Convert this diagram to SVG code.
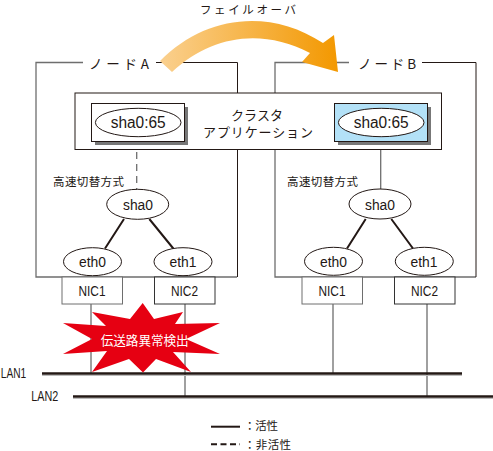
<svg xmlns="http://www.w3.org/2000/svg" width="493" height="451" viewBox="0 0 493 451">
<style>
text{font-family:"Noto Sans CJK JP","Liberation Sans",sans-serif;fill:#231815}
.lat{font-family:"Liberation Sans","Noto Sans CJK JP",sans-serif}
.ell{font-size:15.500px}
.sm{font-size:14px}
.cap{font-size:13.500px}
.jp{font-size:11.500px}
.box{fill:#fff;stroke:#231815;stroke-width:1}
.el{fill:#fff;stroke:#231815;stroke-width:1}
.wire{fill:none;stroke:#6e6e6e;stroke-width:1.300}
.thin{fill:none;stroke:#231815;stroke-width:1}
.dark{fill:none;stroke:#231815;stroke-width:2}
.lan{stroke:#231815;stroke-width:2.500}
.lanS{stroke:#bbb;stroke-width:1}
.shadow{fill:#777}
</style>
<defs>
<linearGradient id="g" gradientUnits="userSpaceOnUse" x1="160" y1="0" x2="338" y2="0">
<stop offset="0" stop-color="#fad08f"/><stop offset="1" stop-color="#f39800"/>
</linearGradient>
</defs>
<rect width="493" height="451" fill="#fff"/>
<g id="connectors">
<path class="wire" d="M83 62.500H36V277H237"/>
<path class="thin" d="M156 62.500H237.500V277"/>
<path class="wire" d="M349 62.500H275V277H476"/>
<path class="thin" d="M422 62.500H476V277"/>
<path class="wire" d="M91 304V373M185 304V396M333 304V373M427 304V396"/>
<path class="wire" stroke-dasharray="7 5" d="M136.700 140V190"/>
<path class="wire" d="M380.700 140V190"/>
<path class="dark" d="M124 219L105 248.500M149.300 219L173.300 248.500M365.700 219L347 248.500M391.300 219L413 248.500"/>
<path class="lanS" d="M42 375.500H462M73 398.500H493"/>
<path class="lan" d="M42 373.500H462M73 396.500H493"/>
<path d="M211 426.700H240" stroke="#231815" stroke-width="2"/>
<path d="M211 444.300H240" stroke="#231815" stroke-width="2" stroke-dasharray="6 3.500"/>
</g>
<g id="failover-arrow">
<path fill="url(#g)" d="M160 61C205 15 270 8 323 43L334 35L338 72L302 62L310 53C262 28 212 35 172 72Z"/>
<text x="200" y="13.500" style="font-size:11.500px" textLength="96">フェイルオーバ</text>
</g>
<g id="node-a-label"><text x="89" y="69" class="cap" textLength="60">ノードA</text></g>
<g id="node-b-label"><text x="358" y="69" class="cap" textLength="58">ノードB</text></g>
<g id="cluster-app">
<rect x="75" y="93" width="366.500" height="56.500" class="box"/>
<text x="231" y="119.500" style="font-size:13px" textLength="52">クラスタ</text>
<text x="203" y="137" style="font-size:13px" textLength="110">アプリケーション</text>
</g>
<g id="sha065-a">
<rect x="95" y="107" width="93" height="38" class="shadow"/>
<rect x="91.500" y="103.500" width="93" height="38" class="box"/>
<ellipse cx="138.200" cy="122.500" rx="42.800" ry="14.200" class="el"/>
<text x="110.700" y="128" class="lat" style="font-size:16px" textLength="55" lengthAdjust="spacingAndGlyphs">sha0:65</text>
</g>
<g id="sha065-b">
<rect x="338" y="107" width="93" height="38" class="shadow"/>
<rect x="334.500" y="103.500" width="93" height="38" fill="#b3e1f7" stroke="#231815"/>
<ellipse cx="381.200" cy="122.500" rx="42.800" ry="14.200" class="el"/>
<text x="353.700" y="128" class="lat" style="font-size:16px" textLength="55" lengthAdjust="spacingAndGlyphs">sha0:65</text>
</g>
<text class="jp" x="53" y="185.500" textLength="71">高速切替方式</text>
<text class="jp" x="287" y="185.500" textLength="71">高速切替方式</text>
<g id="sha0-a"><ellipse cx="137.700" cy="204.300" rx="31" ry="15" class="el"/><text x="123" y="210" class="lat ell" textLength="30" lengthAdjust="spacingAndGlyphs">sha0</text></g>
<g id="eth0-a"><ellipse cx="92.500" cy="261.700" rx="29" ry="14" class="el"/><text x="79" y="267" class="lat sm" textLength="27" lengthAdjust="spacingAndGlyphs">eth0</text></g>
<g id="eth1-a"><ellipse cx="183" cy="261.700" rx="29" ry="14" class="el"/><text x="169.500" y="267" class="lat sm" textLength="27" lengthAdjust="spacingAndGlyphs">eth1</text></g>
<g id="sha0-b"><ellipse cx="380" cy="204" rx="31" ry="15" class="el"/><text x="365" y="209.500" class="lat ell" textLength="30" lengthAdjust="spacingAndGlyphs">sha0</text></g>
<g id="eth0-b"><ellipse cx="333.500" cy="261.300" rx="29" ry="14" class="el"/><text x="320" y="266.500" class="lat sm" textLength="27" lengthAdjust="spacingAndGlyphs">eth0</text></g>
<g id="eth1-b"><ellipse cx="424.300" cy="261.300" rx="29" ry="14" class="el"/><text x="410.500" y="266.500" class="lat sm" textLength="27" lengthAdjust="spacingAndGlyphs">eth1</text></g>
<g id="nic1-a"><rect x="62" y="277" width="60.500" height="27" fill="#fff" stroke="#6e6e6e"/><text x="78.500" y="295.500" class="lat sm" textLength="27" lengthAdjust="spacingAndGlyphs">NIC1</text></g>
<g id="nic2-a"><rect x="154.500" y="277" width="60.500" height="27" fill="#fff" stroke="#333"/><text x="171" y="295.500" class="lat sm" textLength="27" lengthAdjust="spacingAndGlyphs">NIC2</text></g>
<g id="nic1-b"><rect x="302" y="277" width="60.500" height="27" fill="#fff" stroke="#6e6e6e"/><text x="318.500" y="295.500" class="lat sm" textLength="27" lengthAdjust="spacingAndGlyphs">NIC1</text></g>
<g id="nic2-b"><rect x="394.500" y="277" width="60.500" height="27" fill="#fff" stroke="#333"/><text x="411" y="295.500" class="lat sm" textLength="27" lengthAdjust="spacingAndGlyphs">NIC2</text></g>
<g id="alert">
<path fill="#e60012" d="M142.700 303L154 319L183 312L175 324L220 323L186 339L220 354L173 352L191 372L156 359L143 372.500L129 359L92 372L107 351L63 354L92 339L63 323L106 326L92 312L130 319Z"/>
<text x="100.700" y="344.500" style="font-size:12.600px;fill:#fff" textLength="88">伝送路異常検出</text>
</g>
<text x="0.800" y="378" class="lat sm" textLength="25.500" lengthAdjust="spacingAndGlyphs">LAN1</text>
<text x="31.300" y="401" class="lat sm" textLength="27" lengthAdjust="spacingAndGlyphs">LAN2</text>
<text x="244" y="430" style="font-size:11.500px" textLength="34">：活性</text>
<text x="244" y="448.500" style="font-size:11.500px" textLength="47">：非活性</text>
</svg>
